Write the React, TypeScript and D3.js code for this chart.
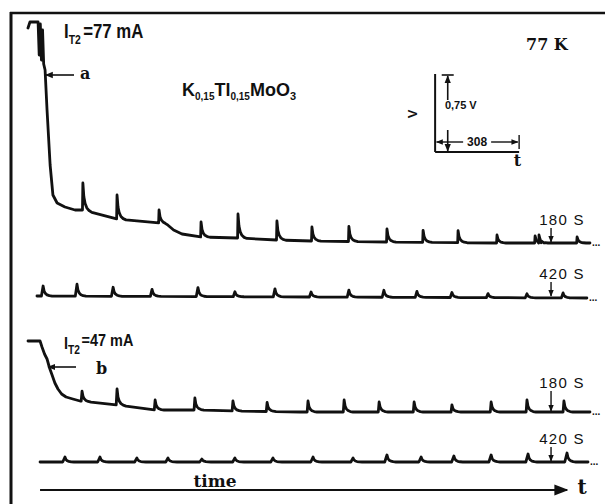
import React from 'react';
import * as d3 from 'd3';

// time in s (30 s scale bar), voltage in V (0.75 V scale bar), traces are offset vertically
const TIME_DOMAIN = [0, 200];
const VOLT_DOMAIN = [0, 5];

// trace a, 180 s (I_T2 = 77 mA)
const aKnotT = [0, 0.7, 3.6, 4.0, 4.4, 4.8, 5.2, 5.6, 6.1, 6.8, 7.9, 8.9, 10.4, 13.2, 16.8, 19.6, 31.8, 46.8, 49.5, 52, 55, 61.8, 75, 88.9, 101.4, 128.2, 167.5, 200.7];
const aKnotV = [4.72, 4.78, 4.78, 4.45, 4.76, 4.40, 4.70, 4.36, 4.30, 3.90, 3.35, 3.05, 2.97, 2.93, 2.90, 2.90, 2.81, 2.77, 2.76, 2.70, 2.66, 2.63, 2.62, 2.60, 2.59, 2.58, 2.57, 2.57];
const aSpikeT = [19.6, 31.8, 46.8, 61.8, 75.0, 88.9, 101.4, 114.6, 128.2, 141.1, 153.6, 167.5, 181.1, 182.5, 196.1];
const aSpikeH = [0.27, 0.24, 0.13, 0.15, 0.24, 0.19, 0.14, 0.15, 0.13, 0.12, 0.12, 0.08, 0.07, 0.08, 0.06];

// trace a, 420 s
const a2KnotT = [3.2, 100, 199.6];
const a2KnotV = [2.04, 2.03, 2.02];
const a2SpikeT = [5.4, 17.5, 30.4, 44.3, 60.7, 73.9, 88.2, 101.1, 114.6, 127.1, 138.9, 151.4, 164.3, 178.2, 191.1];
const a2SpikeH = [0.10, 0.12, 0.09, 0.07, 0.09, 0.05, 0.08, 0.05, 0.07, 0.07, 0.06, 0.05, 0.04, 0.04, 0.05];

// trace b, 180 s (I_T2 = 47 mA)
const bKnotT = [0, 4.3, 5.0, 5.9, 6.8, 7.7, 8.6, 9.6, 10.7, 12.0, 13.6, 16.0, 18.6, 31.8, 45.4, 61.4, 73.6, 97.1, 200.7];
const bKnotV = [1.59, 1.59, 1.53, 1.46, 1.41, 1.32, 1.25, 1.17, 1.11, 1.06, 1.03, 1.01, 0.99, 0.95, 0.90, 0.90, 0.89, 0.88, 0.88];
const bSpikeT = [19.3, 31.8, 45.4, 59.6, 73.2, 85.4, 100, 112.9, 125.4, 137.9, 151.4, 165.4, 178.2, 191.4];
const bSpikeH = [0.10, 0.16, 0.10, 0.12, 0.10, 0.09, 0.11, 0.12, 0.10, 0.10, 0.07, 0.10, 0.12, 0.11];

// trace b, 420 s
const b2KnotT = [4.3, 200];
const b2KnotV = [0.38, 0.38];
const b2SpikeT = [13.2, 25.7, 38.9, 50, 62.1, 73.9, 87.5, 101.8, 116.1, 128.2, 140.4, 152.1, 165.4, 178.6, 192.5];
const b2SpikeH = [0.05, 0.05, 0.04, 0.04, 0.03, 0.04, 0.04, 0.05, 0.04, 0.07, 0.05, 0.06, 0.07, 0.08, 0.09];

// marker labels (time marks on each trace)
const markLabels = ['180 S', '420 S', '180 S', '420 S'];
const markT = 186.8;
const markV = [2.57, 2.03, 0.88, 0.38];

const DECAY_DT = [0.35, 0.8, 1.4, 2.2, 3.2];
const DECAY_F = [0.5, 0.26, 0.12, 0.04, 0];

function buildTrace(kt: number[], kv: number[], st: number[], sh: number[], rise: number): [number, number][] {
  const base = d3.scaleLinear().domain(kt).range(kv).clamp(true);
  const inSpike = (t: number) => st.some(s => t > s - rise - 0.1 && t < s + 3.3);
  const pts: [number, number][] = [];
  kt.forEach((t, i) => { if (!inSpike(t)) pts.push([t, kv[i]]); });
  st.forEach((s, i) => {
    const h = sh[i];
    pts.push([s - rise, base(s - rise)]);
    pts.push([s, base(s) + h]);
    DECAY_DT.forEach((dt, j) => pts.push([s + dt, base(s + dt) + h * DECAY_F[j]]));
  });
  return pts.sort((p, q) => p[0] - q[0]);
}

const W = 606;
const H = 504;

const App: React.FC = () => {
  const x = d3.scaleLinear().domain(TIME_DOMAIN).range([28, 588]);
  const y = d3.scaleLinear().domain(VOLT_DOMAIN).range([500, 0]);
  const line = d3.line<[number, number]>().x(d => x(d[0])).y(d => y(d[1]));

  const traces = [
    buildTrace(aKnotT, aKnotV, aSpikeT, aSpikeH, 0.15),
    buildTrace(a2KnotT, a2KnotV, a2SpikeT, a2SpikeH, 0.6),
    buildTrace(bKnotT, bKnotV, bSpikeT, bSpikeH, 0.3),
    buildTrace(b2KnotT, b2KnotV, b2SpikeT, b2SpikeH, 0.8),
  ];

  const serif = '"DejaVu Serif", serif';
  const sans = '"Liberation Sans", Arial, sans-serif';

  // inset scale bar: 30 s by 0.75 V
  const insetT0 = 145.4;
  const insetV0 = 3.48;

  return (
    <svg width={W} height={H} style={{ position: 'absolute', left: 0, top: 0, background: '#fff' }}>
      <defs>
        <marker id="ah" viewBox="0 0 10 10" refX="9" refY="5" markerWidth="7" markerHeight="7" orient="auto-start-reverse">
          <path d="M0,1 L10,5 L0,9 z" fill="#111" />
        </marker>
        <marker id="ahs" viewBox="0 0 10 10" refX="9" refY="5" markerWidth="5" markerHeight="5" orient="auto-start-reverse">
          <path d="M0,1 L10,5 L0,9 z" fill="#111" />
        </marker>
      </defs>

      {/* frame */}
      <line x1={10} y1={13} x2={605} y2={13} stroke="#111" strokeWidth={2.5} />
      <line x1={11} y1={12} x2={11} y2={504} stroke="#111" strokeWidth={3} />

      {/* traces */}
      {traces.map((pts, i) => (
        <g key={i}>
          <path d={line(pts) || ''} fill="none" stroke="#111" strokeWidth={2.8} strokeLinejoin="round" strokeLinecap="round" />
          <text x={x(pts[pts.length - 1][0]) + 2} y={y(pts[pts.length - 1][1]) + 3} fontFamily={sans} fontWeight="bold" fontSize={10} fill="#111">...</text>
        </g>
      ))}

      {/* time marks */}
      {markLabels.map((lab, i) => {
        const yb = y(markV[i]);
        const top = i === 2 ? yb - 21 : yb - 15;
        return (
          <g key={lab + i}>
            <line x1={x(markT)} x2={x(markT)} y1={top} y2={yb - 1} stroke="#111" strokeWidth={1.4} markerEnd="url(#ahs)" />
            <text x={562} y={top - 3} textAnchor="middle" fontFamily={sans} fontSize={15} letterSpacing={1.3} fill="#111">{lab}</text>
          </g>
        );
      })}

      {/* labels trace a */}
      <text transform="translate(64,38) scale(0.8,1)" fontFamily={sans} fontWeight="bold" fontSize={21} fill="#111">
        I<tspan fontSize={13} dy={6}>T2</tspan><tspan dy={-6} dx={3}>=77 mA</tspan>
      </text>
      <text x={80} y={79} fontFamily={serif} fontWeight="bold" fontSize={16} fill="#111">a</text>
      <line x1={74} y1={75} x2={x(6.3)} y2={75} stroke="#111" strokeWidth={1.6} markerEnd="url(#ahs)" />

      <text x={182} y={96} fontFamily={sans} fontWeight="bold" fontSize={18} fill="#111">
        K<tspan fontSize={10} dy={4}>0,15</tspan><tspan dy={-4}>Tl</tspan><tspan fontSize={10} dy={4}>0,15</tspan><tspan dy={-4}>MoO</tspan><tspan fontSize={11} dy={4}>3</tspan>
      </text>

      <text x={526} y={50} fontFamily={serif} fontWeight="bold" fontSize={16} fill="#111">77 K</text>

      {/* inset scale bar */}
      <line x1={x(insetT0)} y1={y(insetV0)} x2={x(insetT0)} y2={y(insetV0 + 0.78)} stroke="#111" strokeWidth={2} />
      <line x1={x(insetT0)} y1={y(insetV0)} x2={x(insetT0 + 30)} y2={y(insetV0)} stroke="#111" strokeWidth={2} />
      <line x1={x(insetT0 + 4.5) - 6} y1={y(insetV0 + 0.77)} x2={x(insetT0 + 4.5) + 6} y2={y(insetV0 + 0.77)} stroke="#111" strokeWidth={1.6} />
      <line x1={x(insetT0 + 4.5)} y1={y(insetV0 + 0.52)} x2={x(insetT0 + 4.5)} y2={y(insetV0 + 0.76)} stroke="#111" strokeWidth={1.6} markerEnd="url(#ahs)" />
      <line x1={x(insetT0 + 4.5)} y1={y(insetV0 + 0.22)} x2={x(insetT0 + 4.5)} y2={y(insetV0 + 0.01)} stroke="#111" strokeWidth={1.6} markerEnd="url(#ahs)" />
      <text x={x(insetT0 + 3.5)} y={y(insetV0 + 0.43)} fontFamily={sans} fontWeight="bold" fontSize={11} fill="#111">0,75 V</text>
      <line x1={x(insetT0 + 10)} y1={y(insetV0 + 0.1)} x2={x(insetT0 + 0.5)} y2={y(insetV0 + 0.1)} stroke="#111" strokeWidth={1.4} markerEnd="url(#ahs)" />
      <line x1={x(insetT0 + 20)} y1={y(insetV0 + 0.1)} x2={x(insetT0 + 29.5)} y2={y(insetV0 + 0.1)} stroke="#111" strokeWidth={1.4} markerEnd="url(#ahs)" />
      <line x1={x(insetT0 + 30)} y1={y(insetV0 + 0.17)} x2={x(insetT0 + 30)} y2={y(insetV0 + 0.03)} stroke="#111" strokeWidth={1.4} />
      <text x={x(insetT0 + 15)} y={y(insetV0 + 0.06)} textAnchor="middle" fontFamily={sans} fontWeight="bold" fontSize={12} fill="#111">308</text>
      <text x={x(insetT0 + 29.4)} y={y(insetV0 - 0.14)} textAnchor="middle" fontFamily={serif} fontWeight="bold" fontSize={16} fill="#111">t</text>
      <text transform={`translate(${x(insetT0 - 6.5)},${y(insetV0 + 0.38)}) rotate(-90)`} textAnchor="middle" fontFamily={sans} fontWeight="bold" fontSize={13} fill="#111">V</text>

      {/* labels trace b */}
      <text transform="translate(64,349) scale(0.85,1)" fontFamily={sans} fontWeight="bold" fontSize={17} fill="#111">
        I<tspan fontSize={12} dy={5}>T2</tspan><tspan dy={-8} dx={2}>=47 mA</tspan>
      </text>
      <text x={96} y={374} fontFamily={serif} fontWeight="bold" fontSize={16} fill="#111">b</text>
      <line x1={76} y1={367} x2={x(7.2)} y2={367} stroke="#111" strokeWidth={1.6} markerEnd="url(#ahs)" />

      {/* time axis */}
      <line x1={x(4.3)} y1={490} x2={x(192.5)} y2={490} stroke="#111" strokeWidth={2} markerEnd="url(#ah)" />
      <text x={215} y={487} textAnchor="middle" fontFamily={serif} fontWeight="bold" fontSize={17} fill="#111">time</text>
      <text x={582} y={494} textAnchor="middle" fontFamily={serif} fontWeight="bold" fontSize={20} fill="#111">t</text>
    </svg>
  );
};

export default App;
